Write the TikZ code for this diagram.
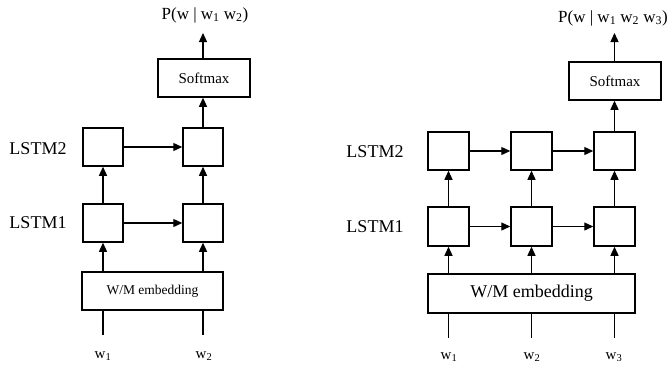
\documentclass[tikz,border=0pt]{standalone}
\usepackage{fontspec}
\setmainfont{Liberation Serif}
\usetikzlibrary{arrows.meta}
\tikzset{
  cell/.style={draw, line width=1.5pt, minimum width=40pt, minimum height=38pt, inner sep=0pt},
  wide/.style={draw, line width=1.5pt, inner sep=0pt},
  flow/.style={line width=1.3pt, -{Triangle[length=9pt,width=8pt]}},
  feed/.style={line width=1.3pt},
  lbl/.style={inner sep=0pt, font=\fontsize{18}{20}\selectfont},
  wlbl/.style={inner sep=0pt, font=\fontsize{15}{17}\selectfont},
  plbl/.style={inner sep=0pt, font=\fontsize{17}{19}\selectfont}
}
\begin{document}
\begin{tikzpicture}[x=1pt,y=-1pt]
\useasboundingbox (0,0) rectangle (670,367);
% ---------- left diagram ----------
\node[lbl] (lA2) at (38,149) {LSTM2};
\node[lbl] (lA1) at (38,223) {LSTM1};
\node[cell] (a21) at (103,147) {};
\node[cell] (a22) at (203,147) {};
\node[cell] (a11) at (103,223) {};
\node[cell] (a12) at (203,223) {};
\node[wide, minimum width=141pt, minimum height=38pt, font=\fontsize{13.5}{15}\selectfont] (aemb) at (152.5,291) {W/M embedding};
\node[wide, minimum width=92pt, minimum height=38pt, font=\fontsize{15}{17}\selectfont] (asm) at (204,78) {Softmax};
\node[plbl] (aP) at (205,15) {P(w | w\textsubscript{1} w\textsubscript{2})};
\coordinate (aPt) at (203,33);
\node[wlbl] (aw1) at (103,356) {w\textsubscript{1}};
\node[wlbl] (aw2) at (204,356) {w\textsubscript{2}};
\coordinate (ain1) at (103,335);
\coordinate (ain2) at (203,335);
\draw[feed] (ain1) -- (ain1 |- aemb.south);
\draw[feed] (ain2) -- (ain2 |- aemb.south);
\draw[flow] (aemb.north -| a11) -- (a11.south);
\draw[flow] (aemb.north -| a12) -- (a12.south);
\draw[flow] (a11) -- (a21);
\draw[flow] (a12) -- (a22);
\draw[flow] (a11) -- (a12);
\draw[flow] (a21) -- (a22);
\draw[flow] (a22.north) -- (a22.north |- asm.south);
\draw[flow] (asm.north -| a22) -- (aPt);
% ---------- right diagram ----------
\node[lbl] (lB2) at (375,152) {LSTM2};
\node[lbl] (lB1) at (375,227) {LSTM1};
\node[cell, minimum width=41pt] (b21) at (448.5,151) {};
\node[cell, minimum width=41pt] (b22) at (531.5,151) {};
\node[cell, minimum width=41pt] (b23) at (614.5,151) {};
\node[cell, minimum width=41pt, minimum height=39pt] (b11) at (448.5,226.5) {};
\node[cell, minimum width=41pt, minimum height=39pt] (b12) at (531.5,226.5) {};
\node[cell, minimum width=41pt, minimum height=39pt] (b13) at (614.5,226.5) {};
\node[wide, minimum width=207pt, minimum height=39pt, font=\fontsize{18}{20}\selectfont] (bemb) at (531.5,293.5) {W/M embedding};
\node[wide, minimum width=92pt, minimum height=38pt, font=\fontsize{15}{17}\selectfont] (bsm) at (615,81) {Softmax};
\node[plbl] (bP) at (613,18) {P(w | w\textsubscript{1} w\textsubscript{2} w\textsubscript{3})};
\coordinate (bPt) at (614.5,33);
\node[wlbl] (bw1) at (449,357) {w\textsubscript{1}};
\node[wlbl] (bw2) at (532,357) {w\textsubscript{2}};
\node[wlbl] (bw3) at (614,357) {w\textsubscript{3}};
\coordinate (bin1) at (448.5,338);
\coordinate (bin2) at (531.5,338);
\coordinate (bin3) at (614.5,338);
\draw[feed] (bin1) -- (bin1 |- bemb.south);
\draw[feed] (bin2) -- (bin2 |- bemb.south);
\draw[feed] (bin3) -- (bin3 |- bemb.south);
\draw[flow] (bemb.north -| b11) -- (b11.south);
\draw[flow] (bemb.north -| b12) -- (b12.south);
\draw[flow] (bemb.north -| b13) -- (b13.south);
\draw[flow] (b11) -- (b21);
\draw[flow] (b12) -- (b22);
\draw[flow] (b13) -- (b23);
\draw[flow] (b11) -- (b12);
\draw[flow] (b12) -- (b13);
\draw[flow] (b21) -- (b22);
\draw[flow] (b22) -- (b23);
\draw[flow] (b23.north) -- (b23.north |- bsm.south);
\draw[flow] (bsm.north -| b23) -- (bPt);
\end{tikzpicture}
\end{document}
